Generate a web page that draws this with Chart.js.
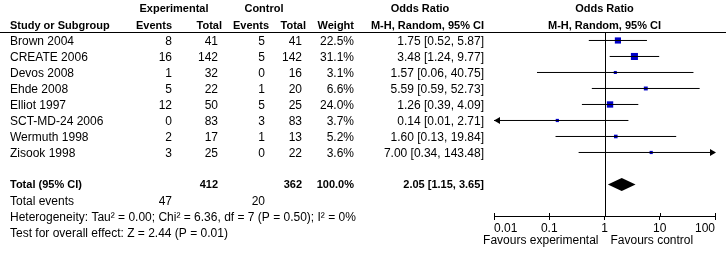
<html>
<head>
<style>
  body { margin:0; background:#fff; }
  canvas { display:block; }
</style>
</head>
<body>
<canvas id="myChart" width="726" height="256"></canvas>
<script src="https://cdn.jsdelivr.net/npm/chart.js@4.4.1/dist/chart.umd.min.js"></script>
<script>
// study data
var studies = ['Brown 2004','CREATE 2006','Devos 2008','Ehde 2008','Elliot 1997','SCT-MD-24 2006','Wermuth 1998','Zisook 1998'];
var expEvents = [8,16,1,5,12,0,2,3];
var expTotal = [41,142,32,22,50,83,17,25];
var ctlEvents = [5,5,0,1,5,3,1,0];
var ctlTotal = [41,142,16,20,25,83,13,22];
var weight = [22.5,31.1,3.1,6.6,24.0,3.7,5.2,3.6];
var orEst = [1.75,3.48,1.57,5.59,1.26,0.14,1.60,7.00];
var orLow = [0.52,1.24,0.06,0.59,0.39,0.01,0.13,0.34];
var orHigh = [5.87,9.77,40.75,52.73,4.09,2.71,19.84,143.48];

// pooled result
var totalEst = 2.05, totalLow = 1.15, totalHigh = 3.65;
var totalWeight = '100.0%';
var heterogeneity = 'Heterogeneity: Tau\u00b2 = 0.00; Chi\u00b2 = 6.36, df = 7 (P = 0.50); I\u00b2 = 0%';
var overallTest = 'Test for overall effect: Z = 2.44 (P = 0.01)';

// axis
var xTicks = [0.01,0.1,1,10,100];
var xTickLabels = ['0.01','0.1','1','10','100'];
var favours = ['Favours experimental','Favours control'];

var FONT = '"Liberation Sans", Arial, sans-serif';
var totalRow = studies.length + 1;

function sum(a){ return a.reduce(function(s,v){ return s+v; },0); }
function fmt(v){ return v.toFixed(2); }

var datasets = [];
// CI lines
for (var i = 0; i < studies.length; i++) {
  datasets.push({
    type:'line',
    data:[{x:orLow[i],y:i},{x:orHigh[i],y:i}],
    borderColor:'#000', borderWidth:1, pointRadius:0
  });
}
// weight squares (side grows with sqrt of weight)
datasets.push({
  type:'scatter',
  data: orEst.map(function(v,i){ return {x:v,y:i}; }),
  pointStyle:'rect',
  pointRadius: function(c){ return (Math.sqrt(weight[c.dataIndex]) * 1.05 + 1.2) / Math.SQRT2; },
  backgroundColor:'#0000c8', borderWidth:0
});

var forestPlugin = {
  id:'forest',
  beforeDatasetsDraw: function(chart){
    var ctx = chart.ctx, x = chart.scales.x, a = chart.chartArea;
    var px = Math.round(x.getPixelForValue(1)) + 0.5;
    ctx.save();
    ctx.strokeStyle = '#000'; ctx.lineWidth = 1;
    ctx.beginPath(); ctx.moveTo(px, a.top); ctx.lineTo(px, a.bottom); ctx.stroke();
    ctx.restore();
  },
  afterDraw: function(chart){
    var ctx = chart.ctx, x = chart.scales.x, y = chart.scales.y, a = chart.chartArea;
    ctx.save();
    ctx.fillStyle = '#000'; ctx.strokeStyle = '#000'; ctx.lineWidth = 1;

    function txt(s, tx, ty, align, bold){
      ctx.font = bold ? 'bold 11px ' + FONT : '12px ' + FONT;
      ctx.textAlign = align;
      ctx.textBaseline = 'alphabetic';
      ctx.fillText(s, tx, ty);
    }
    function rowY(r){ return y.getPixelForValue(r) + 5; }

    // header
    txt('Experimental', 174, 12, 'center', true);
    txt('Control', 264, 12, 'center', true);
    txt('Odds Ratio', 420, 12, 'center', true);
    txt('Odds Ratio', x.getPixelForValue(1), 12, 'center', true);
    txt('Study or Subgroup', 10, 29, 'left', true);
    txt('Events', 172, 29, 'right', true);
    txt('Total', 222, 29, 'right', true);
    txt('Events', 269, 29, 'right', true);
    txt('Total', 306, 29, 'right', true);
    txt('Weight', 354, 29, 'right', true);
    txt('M-H, Random, 95% CI', 484, 29, 'right', true);
    txt('M-H, Random, 95% CI', x.getPixelForValue(1), 29, 'center', true);
    ctx.beginPath(); ctx.moveTo(0, a.top + 0.5); ctx.lineTo(726, a.top + 0.5); ctx.stroke();

    // study rows
    for (var i = 0; i < studies.length; i++) {
      var ty = rowY(i);
      txt(studies[i], 10, ty, 'left');
      txt(String(expEvents[i]), 172, ty, 'right');
      txt(String(expTotal[i]), 218, ty, 'right');
      txt(String(ctlEvents[i]), 265, ty, 'right');
      txt(String(ctlTotal[i]), 302, ty, 'right');
      txt(weight[i].toFixed(1) + '%', 354, ty, 'right');
      txt(fmt(orEst[i]) + ' [' + fmt(orLow[i]) + ', ' + fmt(orHigh[i]) + ']', 484, ty, 'right');

      // arrows where the CI runs off the axis
      var py = y.getPixelForValue(i);
      if (orLow[i] <= x.min) {
        var lx = x.getPixelForValue(x.min);
        ctx.beginPath(); ctx.moveTo(lx, py); ctx.lineTo(lx + 6, py - 3.5); ctx.lineTo(lx + 6, py + 3.5); ctx.closePath(); ctx.fill();
      }
      if (orHigh[i] >= x.max) {
        var rx = x.getPixelForValue(x.max);
        ctx.beginPath(); ctx.moveTo(rx + 1, py); ctx.lineTo(rx - 5, py - 3.5); ctx.lineTo(rx - 5, py + 3.5); ctx.closePath(); ctx.fill();
      }
    }

    // total row
    var tty = rowY(totalRow) - 1;
    txt('Total (95% CI)', 10, tty, 'left', true);
    txt(String(sum(expTotal)), 218, tty, 'right', true);
    txt(String(sum(ctlTotal)), 302, tty, 'right', true);
    txt(totalWeight, 354, tty, 'right', true);
    txt(fmt(totalEst) + ' [' + fmt(totalLow) + ', ' + fmt(totalHigh) + ']', 484, tty, 'right', true);

    // diamond
    var dy = y.getPixelForValue(totalRow);
    ctx.beginPath();
    ctx.moveTo(x.getPixelForValue(totalLow), dy);
    ctx.lineTo(x.getPixelForValue(totalEst), dy - 6.5);
    ctx.lineTo(x.getPixelForValue(totalHigh), dy);
    ctx.lineTo(x.getPixelForValue(totalEst), dy + 6.5);
    ctx.closePath(); ctx.fill();

    txt('Total events', 10, rowY(totalRow + 1), 'left');
    txt(String(sum(expEvents)), 172, rowY(totalRow + 1), 'right');
    txt(String(sum(ctlEvents)), 265, rowY(totalRow + 1), 'right');
    txt(heterogeneity, 10, rowY(totalRow + 2), 'left');
    txt(overallTest, 10, rowY(totalRow + 3), 'left');

    // tick marks crossing the axis line
    xTicks.forEach(function(v){
      var tx = Math.round(x.getPixelForValue(v)) + 0.5;
      ctx.beginPath(); ctx.moveTo(tx, a.bottom - 3); ctx.lineTo(tx, a.bottom); ctx.stroke();
    });

    var p1 = x.getPixelForValue(1);
    txt(favours[0], p1 - 6, 244, 'right');
    txt(favours[1], p1 + 6, 244, 'left');
    ctx.restore();
  }
};

var myChart = new Chart(document.getElementById('myChart'), {
  type:'scatter',
  data:{ datasets: datasets },
  options:{
    responsive:false,
    animation:false,
    events:[],
    layout:{ padding:{ left:494, right:11, top:32, bottom:0 } },
    plugins:{ legend:{display:false}, tooltip:{enabled:false} },
    scales:{
      x:{
        type:'logarithmic', min:0.01, max:100, position:'bottom',
        afterBuildTicks: function(s){ s.ticks = xTicks.map(function(v){ return {value:v}; }); },
        afterFit: function(s){ s.height = 40; },
        ticks:{
          callback: function(v, i){ return xTickLabels[i]; },
          autoSkip:false, maxRotation:0, padding:1, align:'inner',
          color:'#000', font:{ family:FONT, size:12 }
        },
        grid:{ drawOnChartArea:false, drawTicks:true, tickLength:4, color:'#000' },
        border:{ color:'#000', width:1 }
      },
      y:{ type:'linear', display:false, min:-0.53, max:10.97, reverse:true }
    }
  },
  plugins:[forestPlugin]
});
</script>
</body>
</html>
